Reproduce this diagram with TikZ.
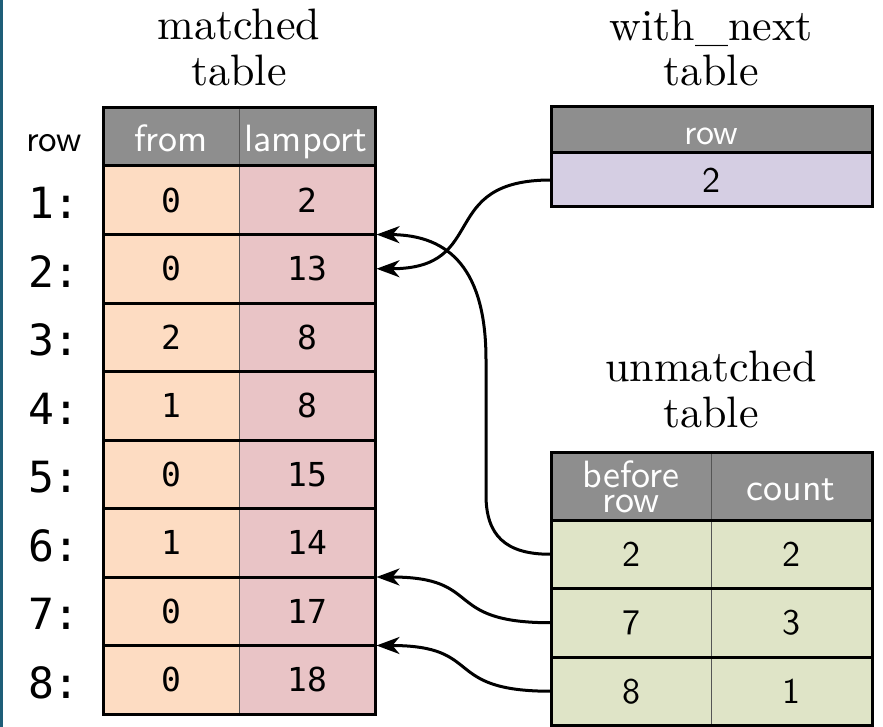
\documentclass[tikz,border=0pt]{standalone}
\usepackage{fontspec}
\usetikzlibrary{arrows.meta}
\newfontfamily\monof{DejaVu Sans Mono}
\newfontfamily\romten{lmroman10-regular.otf}
\newfontfamily\sansten{lmsans10-regular.otf}
\definecolor{hdr}{HTML}{8E8E8E}
\definecolor{peach}{HTML}{FDDCC2}
\definecolor{pinkc}{HTML}{E9C4C6}
\definecolor{lav}{HTML}{D5CEE3}
\definecolor{grn}{HTML}{DFE4C7}
\definecolor{divc}{HTML}{555555}
\definecolor{edgec}{HTML}{1E5E78}
\begin{document}
\begin{tikzpicture}[x=1pt,y=-1pt,
  every node/.style={inner sep=0pt, outer sep=0pt},
  titletext/.style={anchor=base, font=\romten\fontsize{44}{47}\selectfont},
  hdrtext/.style={anchor=base, text=white, font=\sansten\fontsize{38}{38}\selectfont},
  monoval/.style={font=\monof\fontsize{33}{33}\selectfont},
  sansval/.style={font=\sansten\fontsize{36}{36}\selectfont},
  rowlab/.style={font=\monof\fontsize{43}{43}\selectfont},
  cellbox/.style={minimum height=68.5pt},
  border/.style={line width=3pt},
  divider/.style={line width=1pt, draw=divc},
  conn/.style={line width=3pt, -{Stealth[length=23pt,width=17pt,inset=7pt]}, shorten >=1.5pt},
]
\useasboundingbox (0,0) rectangle (883,727);
\fill[edgec] (0,0) rectangle (2.5,727);

% titles
\node[titletext] (t1a) at (239,40) {matched};
\node[titletext] (t1b) at (239,86) {table};
\node[titletext] (t2a) at (711,41) {with\_next};
\node[titletext] (t2b) at (711,86) {table};
\node[titletext] (t3a) at (711,381) {unmatched};
\node[titletext] (t3b) at (711,427) {table};

% matched table
\fill[hdr] (103,108) rectangle (375,166);
\node[hdrtext] (hfrom) at (171,152) {from};
\node[hdrtext] (hlam) at (306,152) {lamport};
\node[anchor=base, font=\sansten\fontsize{37}{37}\selectfont] (rowlbl) at (54,152) {row};
\foreach \i/\a/\b in {1/0/2, 2/0/13, 3/2/8, 4/1/8, 5/0/15, 6/1/14, 7/0/17, 8/0/18} {
  \pgfmathsetmacro\yc{166+68.5*(\i-0.5)}
  \node[cellbox, minimum width=136pt, fill=peach, monoval] (ma\i) at (171,\yc) {\a};
  \node[cellbox, minimum width=136pt, fill=pinkc, monoval] (mb\i) at (307,\yc) {\b};
  \node[rowlab] (rl\i) at (54,\yc+3) {\i:};
  \node[cellbox, minimum width=272pt] (m\i) at (239,\yc) {};
}
\draw[divider] (239,108) -- (239,714);
\foreach \k in {0,...,7} \draw[border] (103,{166+68.5*\k}) -- (375,{166+68.5*\k});
\draw[border] (103,108) rectangle (375,714);

% with_next table
\fill[hdr] (551,107) rectangle (872,153);
\node[anchor=base, text=white, font=\sansten\fontsize{36}{36}\selectfont] (hrow) at (711,145) {row};
\node[minimum width=321pt, minimum height=54pt, fill=lav, sansval] (w1) at (711.5,180) {2};
\draw[border] (551,153) -- (872,153);
\draw[border] (551,107) rectangle (872,207);

% unmatched table
\fill[hdr] (551,452) rectangle (872,520);
\node[hdrtext] (hb1) at (631,487) {before};
\node[hdrtext] (hb2) at (631,512) {row};
\node[hdrtext] (hcnt) at (791,500) {count};
\foreach \i/\a/\b in {1/2/2, 2/7/3, 3/8/1} {
  \pgfmathsetmacro\yc{520+68.5*(\i-0.5)}
  \node[cellbox, minimum width=160pt, fill=grn, sansval] (ua\i) at (631,\yc) {\a};
  \node[cellbox, minimum width=161pt, fill=grn, sansval] (ub\i) at (791.5,\yc) {\b};
  \node[cellbox, minimum width=321pt] (u\i) at (711.5,\yc) {};
}
\draw[divider] (711,452) -- (711,725);
\foreach \k in {0,...,2} \draw[border] (551,{520+68.5*\k}) -- (872,{520+68.5*\k});
\draw[border] (551,452) rectangle (872,725);

% connectors
\draw[conn] (w1.west) to[out=180,in=0,looseness=1.5] (m2.east);
\draw[conn] (u1.west) .. controls (505,554.5) and (486,535) .. (486,495) -- (486,360) .. controls (486,270) and (450,235) .. (m2.north east);
\draw[conn] (u2.west) to[out=180,in=0,looseness=1.55] (m7.north east);
\draw[conn] (u3.west) to[out=180,in=0,looseness=1.55] (m8.north east);
\end{tikzpicture}
\end{document}
